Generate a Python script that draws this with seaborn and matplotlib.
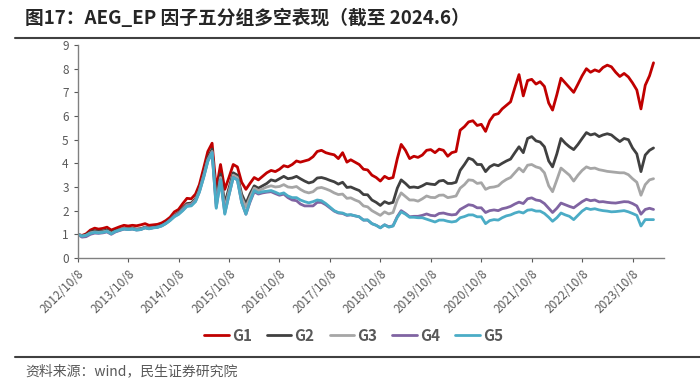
import pandas as pd
import seaborn as sns
import matplotlib.pyplot as plt
import matplotlib.ticker as mticker
from matplotlib.lines import Line2D

dates = pd.date_range("2012-10-01", periods=138, freq="MS") + pd.Timedelta(days=7)

g1 = [1.00, 0.95, 1.02, 1.18, 1.26, 1.22, 1.25, 1.30, 1.18, 1.25,
      1.32, 1.38, 1.35, 1.38, 1.36, 1.40, 1.45, 1.38, 1.40, 1.42,
      1.48, 1.58, 1.72, 1.95, 2.05, 2.30, 2.52, 2.50, 2.70, 3.10,
      3.80, 4.50, 4.85, 2.90, 3.95, 2.90, 3.40, 3.95, 3.85, 3.20,
      2.90, 3.15, 3.40, 3.30, 3.45, 3.60, 3.70, 3.65, 3.75, 3.90,
      3.85, 3.95, 4.10, 4.05, 4.10, 4.15, 4.28, 4.50, 4.55, 4.45,
      4.40, 4.36, 4.20, 4.45, 4.05, 4.15, 4.05, 3.95, 3.75, 3.72,
      3.50, 3.40, 3.25, 3.45, 3.35, 3.40, 4.20, 4.80, 4.55, 4.20,
      4.30, 4.25, 4.35, 4.55, 4.58, 4.45, 4.60, 4.55, 4.30, 4.45,
      4.50, 5.40, 5.55, 5.75, 5.80, 5.60, 5.65, 5.35, 5.80, 6.05,
      6.10, 6.30, 6.45, 6.60, 7.20, 7.75, 6.85, 7.50, 7.55, 7.35,
      7.45, 7.25, 6.55, 6.25, 6.90, 7.60, 7.40, 7.20, 7.00, 7.35,
      7.70, 8.00, 7.85, 7.95, 7.88, 8.05, 8.15, 8.08, 7.85, 7.67,
      7.80, 7.65, 7.40, 7.10, 6.30, 7.30, 7.70, 8.25]

g2 = [1.00, 0.93, 0.98, 1.10, 1.15, 1.12, 1.14, 1.18, 1.08, 1.15,
      1.20, 1.25, 1.24, 1.26, 1.22, 1.24, 1.30, 1.26, 1.30, 1.32,
      1.38, 1.48, 1.62, 1.80, 1.92, 2.12, 2.30, 2.32, 2.50, 2.90,
      3.55, 4.25, 4.60, 2.45, 3.55, 2.30, 2.95, 3.60, 3.50, 2.70,
      2.30, 2.70, 3.05, 2.95, 3.05, 3.15, 3.30, 3.25, 3.35, 3.45,
      3.35, 3.38, 3.45, 3.35, 3.25, 3.17, 3.22, 3.38, 3.40, 3.35,
      3.28, 3.22, 3.12, 3.20, 2.98, 3.00, 2.92, 2.85, 2.68, 2.67,
      2.45, 2.35, 2.22, 2.38, 2.30, 2.35, 2.95, 3.30, 3.15, 2.98,
      3.00, 2.97, 3.05, 3.15, 3.12, 3.10, 3.25, 3.28, 3.15, 3.15,
      3.20, 3.70, 3.95, 4.22, 4.15, 3.95, 3.95, 3.65, 3.85, 3.95,
      3.90, 4.00, 4.10, 4.18, 4.45, 4.70, 4.45, 5.05, 5.13, 4.95,
      4.90, 4.70, 4.10, 3.85, 4.40, 5.05, 4.85, 4.70, 4.58, 4.80,
      5.05, 5.30, 5.20, 5.25, 5.13, 5.20, 5.25, 5.20, 5.05, 4.92,
      5.05, 5.00, 4.65, 4.40, 3.65, 4.35, 4.55, 4.65]

g3 = [1.00, 0.92, 0.96, 1.06, 1.10, 1.08, 1.10, 1.14, 1.04, 1.12,
      1.18, 1.24, 1.22, 1.24, 1.20, 1.22, 1.28, 1.24, 1.28, 1.30,
      1.36, 1.46, 1.60, 1.78, 1.88, 2.06, 2.24, 2.26, 2.45, 2.85,
      3.48, 4.15, 4.50, 2.30, 3.40, 2.10, 2.80, 3.50, 3.40, 2.55,
      2.15, 2.55, 2.95, 2.85, 2.92, 3.00, 3.05, 3.00, 3.02, 3.10,
      3.00, 2.98, 3.02, 2.90, 2.80, 2.75, 2.80, 2.95, 2.98, 2.92,
      2.85, 2.75, 2.68, 2.70, 2.52, 2.54, 2.45, 2.38, 2.20, 2.16,
      2.00, 1.90, 1.80, 1.95, 1.86, 1.92, 2.45, 2.75, 2.60, 2.45,
      2.45, 2.40, 2.50, 2.62, 2.56, 2.55, 2.65, 2.66, 2.55, 2.58,
      2.62, 2.95, 3.10, 3.30, 3.28, 3.15, 3.18, 2.90, 2.98, 3.00,
      3.05, 3.20, 3.32, 3.40, 3.60, 3.80, 3.64, 3.92, 3.95, 3.85,
      3.80, 3.60, 3.05, 2.80, 3.30, 3.80, 3.65, 3.50, 3.25, 3.50,
      3.70, 3.85, 3.78, 3.80, 3.73, 3.70, 3.66, 3.64, 3.62, 3.60,
      3.60, 3.52, 3.35, 3.20, 2.65, 3.10, 3.30, 3.35]

g4 = [1.00, 0.88, 0.90, 1.00, 1.05, 1.04, 1.06, 1.10, 1.00, 1.10,
      1.16, 1.22, 1.20, 1.22, 1.18, 1.20, 1.28, 1.24, 1.28, 1.30,
      1.36, 1.46, 1.60, 1.76, 1.86, 2.02, 2.20, 2.22, 2.40, 2.80,
      3.42, 4.10, 4.45, 2.15, 3.30, 1.90, 2.65, 3.40, 3.30, 2.35,
      1.85, 2.35, 2.80, 2.70, 2.75, 2.78, 2.80, 2.72, 2.65, 2.70,
      2.55, 2.45, 2.42, 2.28, 2.20, 2.20, 2.20, 2.35, 2.35, 2.25,
      2.12, 1.98, 1.90, 1.88, 1.80, 1.82, 1.78, 1.74, 1.60, 1.60,
      1.45, 1.38, 1.28, 1.40, 1.32, 1.36, 1.75, 2.00, 1.88, 1.74,
      1.76, 1.76, 1.80, 1.86, 1.80, 1.78, 1.88, 1.90, 1.85, 1.82,
      1.84, 2.05, 2.15, 2.25, 2.22, 2.12, 2.12, 1.92, 2.00, 2.03,
      2.00, 2.08, 2.12, 2.18, 2.28, 2.36, 2.30, 2.50, 2.54, 2.45,
      2.42, 2.30, 2.10, 1.92, 2.10, 2.32, 2.25, 2.18, 2.12, 2.25,
      2.38, 2.48, 2.42, 2.45, 2.37, 2.38, 2.35, 2.33, 2.32, 2.35,
      2.38, 2.37, 2.30, 2.20, 1.85, 2.05, 2.10, 2.05]

g5 = [1.00, 0.92, 0.95, 1.04, 1.08, 1.06, 1.08, 1.12, 1.02, 1.12,
      1.18, 1.22, 1.20, 1.22, 1.18, 1.20, 1.27, 1.23, 1.27, 1.29,
      1.35, 1.45, 1.58, 1.74, 1.84, 2.00, 2.18, 2.20, 2.38, 2.78,
      3.40, 4.08, 4.45, 2.10, 3.30, 1.85, 2.65, 3.40, 3.30, 2.35,
      1.85, 2.40, 2.85, 2.75, 2.80, 2.82, 2.85, 2.78, 2.70, 2.75,
      2.62, 2.55, 2.55, 2.45, 2.38, 2.33, 2.38, 2.45, 2.42, 2.30,
      2.15, 2.00, 1.92, 1.90, 1.82, 1.83, 1.78, 1.74, 1.60, 1.61,
      1.45, 1.38, 1.27, 1.40, 1.30, 1.35, 1.72, 1.95, 1.85, 1.72,
      1.72, 1.70, 1.70, 1.64, 1.58, 1.52, 1.60, 1.60, 1.55, 1.52,
      1.55, 1.70, 1.75, 1.82, 1.82, 1.74, 1.74, 1.45, 1.58, 1.62,
      1.60, 1.70, 1.78, 1.82, 1.90, 1.95, 1.90, 2.02, 2.04, 1.98,
      1.98, 1.88, 1.72, 1.55, 1.70, 1.90, 1.82, 1.76, 1.62, 1.80,
      1.98, 2.10, 2.05, 2.08, 2.03, 2.00, 1.98, 1.95, 1.96, 1.98,
      2.00, 1.95, 1.88, 1.80, 1.35, 1.62, 1.62, 1.62]

groups = ["G1", "G2", "G3", "G4", "G5"]
colors = ["#C00000", "#404040", "#A6A6A6", "#8064A2", "#4BACC6"]
tick_dates = pd.date_range("2012-10-08", periods=12, freq=pd.DateOffset(years=1))

df = pd.DataFrame({"date": dates, "G1": g1, "G2": g2, "G3": g3, "G4": g4, "G5": g5})
long_df = df.melt(id_vars="date", var_name="group", value_name="nav")

sns.set_style("white")
plt.rcParams["font.family"] = ["Noto Sans CJK SC", "DejaVu Sans"]

fig = plt.figure(figsize=(7, 3.85), dpi=100)
ax = fig.add_axes([0.111, 0.330, 0.838, 0.553])

sns.lineplot(data=long_df, x="date", y="nav", hue="group", hue_order=groups,
             palette=colors, linewidth=2.0, legend=False, ax=ax)

ax.set_ylim(0, 9)
ax.set_xlim(pd.Timestamp("2012-10-08"), pd.Timestamp("2024-05-25"))
ax.yaxis.set_major_locator(mticker.MultipleLocator(1))
ax.set_xticks(tick_dates)
ax.set_xticklabels([f"{d.year}/{d.month}/{d.day}" for d in tick_dates],
                   rotation=45, ha="right", rotation_mode="anchor")
ax.set_xlabel("")
ax.set_ylabel("")
ax.tick_params(axis="both", colors="#595959", labelsize=8.5, length=3, width=0.8,
               direction="out", bottom=True, left=True)
for side in ["top", "right"]:
    ax.spines[side].set_visible(False)
for side in ["left", "bottom"]:
    ax.spines[side].set_color("#808080")
    ax.spines[side].set_linewidth(1.0)

# legend under the axis
handles = [Line2D([0], [0], color=c, lw=2) for c in colors]
fig.legend(handles, groups, loc="center", bbox_to_anchor=(0.505, 0.128), ncol=5,
           frameon=False, handlelength=1.6, handletextpad=0.2, columnspacing=1.0,
           prop={"weight": "bold", "size": 11}, labelcolor="#595959")

# title, rules and source note
fig.text(0.036, 0.952, "图17：AEG_EP 因子五分组多空表现（截至 2024.6）",
         fontsize=13.5, fontweight="bold", color="#262626", va="center")
fig.add_artist(Line2D([0.021, 1.0], [0.902, 0.902], color="#404040", lw=1.5))
fig.add_artist(Line2D([0.021, 1.0], [0.073, 0.073], color="#404040", lw=1.5))
fig.text(0.036, 0.036, "资料来源：wind，民生证券研究院", fontsize=10, color="#595959", va="center")

plt.savefig("out.png", dpi=100)
